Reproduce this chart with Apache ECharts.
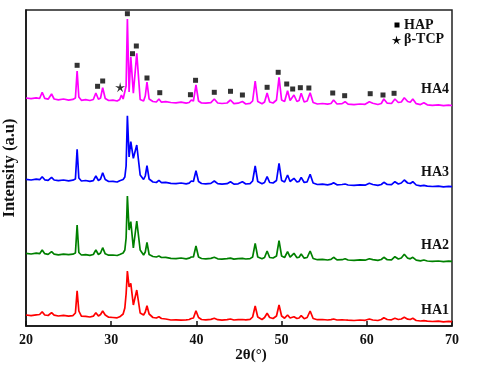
<!DOCTYPE html>
<html>
<head>
<meta charset="utf-8">
<script src="https://cdn.jsdelivr.net/npm/echarts@6/dist/echarts.min.js"></script>
<style>
  html, body { margin: 0; padding: 0; background: #fff; }
  #xrd { width: 480px; height: 372px; }
</style>
</head>
<body>
<div id="xrd"></div>
<script>
// 2θ positions shared by all four patterns
var twoTheta = [
  20.0, 20.6, 21.2, 21.6, 21.9, 22.2, 22.6, 23.0, 23.3, 23.8,
  24.4, 25.0, 25.5, 25.8, 26.0, 26.2, 26.5, 27.0, 27.5, 27.9,
  28.2, 28.5, 28.75, 29.0, 29.3, 29.7, 30.2, 30.7, 31.0, 31.2,
  31.4, 31.6, 31.75, 31.9, 32.1, 32.3, 32.6, 33.0, 33.4, 33.8,
  34.0, 34.2, 34.45, 34.9, 35.3, 35.6, 35.9, 36.4, 37.0, 37.6,
  38.2, 38.8, 39.15, 39.4, 39.65, 39.95, 40.25, 40.6, 41.1, 41.7,
  42.1, 42.5, 43.0, 43.6, 44.0, 44.4, 44.9, 45.4, 45.8, 46.3,
  46.6, 46.9, 47.2, 47.7, 48.0, 48.3, 48.6, 49.0, 49.4, 49.7,
  50.0, 50.35, 50.7, 51.0, 51.2, 51.45, 51.8, 52.05, 52.3, 52.65,
  53.0, 53.35, 53.7, 54.2, 54.8, 55.4, 55.8, 56.1, 56.5, 57.1,
  57.45, 57.8, 58.5, 59.2, 59.8, 60.3, 60.7, 61.3, 61.7, 62.0,
  62.4, 62.9, 63.3, 63.7, 64.05, 64.4, 64.8, 65.1, 65.4, 65.8,
  66.3, 66.7, 67.1, 67.7, 68.4, 69.0, 69.6, 70.0
];

// intensities (a.u., stacked with offsets as in the figure)
var ha4 = [
  228, 227.3, 228.2, 227.5, 233.7, 227.6, 226.8, 232, 227, 226.2,
  227, 225.8, 226.6, 228, 255, 229, 225.7, 226.4, 225.5, 226.5,
  233, 226.8, 228, 238.3, 227.5, 225.5, 225.8, 225, 226.5, 231,
  227, 229, 240, 307, 234, 269.3, 232.7, 272.7, 226.5, 225,
  230, 244, 227, 224.5, 224, 227, 223.8, 224.3, 223.5, 223.2,
  223.8, 222.9, 223.5, 226, 225, 241, 225, 223, 222.8, 223.3,
  227, 223, 222.5, 223, 226, 222.4, 222.8, 224.5, 222, 222.6,
  225, 245, 224.5, 222.3, 224, 233, 224, 223, 226, 248.7,
  226, 224.5, 235.3, 225.5, 225, 231, 224.5, 225.5, 232.7, 224,
  225, 233.3, 223.5, 222, 222.5, 221.8, 222.5, 226, 222, 222.4,
  224.3, 221.8, 221.3, 222, 221.7, 224.3, 222.8, 221.5, 222.5, 227,
  222.8, 222.5, 227, 223.5, 224, 228.3, 224.5, 223.8, 227, 222.3,
  221.4, 223.3, 221.2, 220.6, 221.1, 220.3, 220.8, 220.5
];
var ha3 = [
  146.7, 146, 146.8, 146.3, 149.3, 146.2, 145.6, 148.7, 146, 145.3,
  146, 145.2, 145.8, 147, 176.7, 148, 145, 145.5, 144.6, 145.4,
  150, 145.5, 147, 153.3, 146.5, 144.5, 144.6, 144, 145.2, 146.5,
  146.5, 149, 160, 210.3, 169, 184.3, 167.7, 181, 151, 146.5,
  150, 160.3, 147, 144, 143.5, 145.7, 143.4, 143.6, 142.7, 142.4,
  143, 142.2, 142.8, 145, 144.5, 155.3, 144.5, 142.5, 142.2, 142.6,
  145, 142.4, 141.8, 142.3, 144.3, 141.9, 142.2, 144.3, 142, 142.4,
  145, 160, 144.5, 142.2, 143.5, 149.3, 143.5, 143, 145.5, 162.7,
  145.5, 144, 151, 144.5, 144.3, 147.7, 144, 144.6, 148.7, 143.5,
  144.2, 151.7, 143, 141.5, 141.8, 141.2, 141.8, 143.3, 141.2, 141.5,
  142, 141, 140.6, 141.2, 140.8, 142.7, 141.5, 140.6, 141.5, 143.7,
  141.5, 141.3, 144.3, 142, 143, 146, 143, 142.5, 144.3, 141,
  140.2, 140.7, 139.9, 139.5, 139.9, 139.2, 139.6, 139.3
];
var ha2 = [
  72.7, 72, 72.8, 72.3, 76, 72.3, 71.6, 74.3, 71.8, 71.2,
  71.9, 71.3, 71.8, 73, 101, 73.5, 71, 71.4, 70.7, 71.5,
  76, 71.5, 73, 78.3, 72.2, 70.8, 71, 70.5, 71.5, 72.5,
  73, 76, 88, 130, 96, 104.3, 78, 105, 76, 71,
  74, 83.7, 71.5, 69.5, 69, 70, 68.5, 68.6, 67.7, 67.4,
  68, 67.2, 67.8, 69, 69, 80, 69, 67.5, 67.2, 67.6,
  68.7, 67.2, 66.9, 67.3, 67.9, 66.9, 67.3, 67.7, 67, 67.4,
  69, 82.7, 69, 67.2, 68.5, 75, 68.5, 68, 70, 85.3,
  70, 68.5, 74.3, 68.8, 68.5, 72.7, 68.2, 68.8, 72, 67.8,
  68.5, 75, 67.5, 66.3, 66.6, 66, 66.6, 68.7, 66.1, 66.3,
  67.3, 66, 65.6, 66.2, 65.8, 67.3, 66.4, 65.6, 66.5, 68.7,
  66.3, 66.1, 69.3, 67, 68, 71.7, 67.8, 67.2, 68.7, 65.8,
  65.2, 66, 65, 64.6, 65, 64.4, 64.8, 64.7
];
var ha1 = [
  11, 10.4, 11.2, 11.5, 14.3, 11, 10.5, 13.3, 10.8, 10,
  10.6, 9.8, 10.4, 13, 35.3, 15, 9.8, 9.6, 9, 9.8,
  13.3, 10, 11.5, 15, 11, 8.8, 8.5, 8.2, 9.2, 10.5,
  12, 18, 32, 55, 39, 42.7, 21, 36, 13, 11,
  14, 20.3, 12, 8.5, 8, 9.3, 7.5, 7, 6, 6.2,
  5.8, 6.2, 6.5, 7.5, 8, 15.3, 8.5, 6.5, 6.2, 6.6,
  7.7, 6.3, 5.9, 6.3, 7, 6, 6.4, 6.5, 6.2, 6.6,
  9, 20, 9, 6.5, 8.5, 12.7, 8.5, 7.5, 10, 21,
  10, 7.8, 11, 8, 8, 9.3, 7.5, 8, 10.3, 7.3,
  8.5, 15, 7.5, 6.3, 6.5, 6, 6.4, 7, 6, 6.2,
  6, 5.8, 5.5, 6, 5.7, 7, 6, 5.5, 6.5, 8.3,
  6.5, 6.2, 7.7, 6.5, 7, 8.7, 6.8, 6.5, 7.7, 5.5,
  5, 5.3, 4.8, 4.5, 4.8, 4.2, 4.6, 4.3
];

// phase markers above the HA4 pattern
var hapTheta = [26.0, 28.4, 29.0, 31.9, 32.5, 32.95, 34.2, 35.7, 39.3, 39.9,
  42.1, 44.0, 45.4, 48.3, 49.6, 50.6, 51.3, 52.2, 53.2, 56.0,
  57.4, 60.4, 61.9, 63.2];
var hapLevel = [260.7, 239.7, 245, 312.3, 272.3, 280, 248, 233.3, 231.3, 245.7,
  233.7, 234.7, 231, 238.7, 253.7, 242, 237, 238.3, 238, 233,
  230.3, 232.3, 231, 232.7];
var tcpTheta = [31.05];
var tcpLevel = [238.7];

var sampleNames = ['HA1', 'HA2', 'HA3', 'HA4'];
var sampleColors = ['#ff0000', '#008000', '#0000ff', '#ff00ff'];
var tickLabels = ['20', '30', '40', '50', '60', '70'];

var serif = '"Liberation Serif", "Times New Roman", serif';

function pairs(xs, ys) {
  return xs.map(function (x, i) { return [x, ys[i]]; });
}

// five-point star, used for the β-TCP mark
function starPoints(cx, cy, ro, ri) {
  var pts = [];
  for (var k = 0; k < 10; k++) {
    var r = k % 2 === 0 ? ro : ri;
    var a = Math.PI / 5 * k - Math.PI / 2;
    pts.push([cx + r * Math.cos(a), cy + r * Math.sin(a)]);
  }
  return pts;
}
var starSymbol = 'path://M' + starPoints(0, 0, 10, 3.2).map(function (p) {
  return p[0].toFixed(2) + ',' + p[1].toFixed(2);
}).join('L') + 'Z';

var chartDom = document.getElementById('xrd');
var myChart = echarts.init(chartDom);
var option;

var patterns = [ha1, ha2, ha3, ha4];
var lineSeries = patterns.map(function (ys, i) {
  return {
    name: sampleNames[i],
    type: 'line',
    data: pairs(twoTheta, ys),
    showSymbol: false,
    symbol: 'none',
    smooth: false,
    lineStyle: { color: sampleColors[i], width: 1.7 },
    z: 2
  };
});

var labelY = [310, 245, 172, 89];

option = {
  animation: false,
  grid: {
    left: 26,
    right: 28,
    top: 10,
    bottom: 46,
    containLabel: false,
    outerBoundsMode: 'none',
    show: true,
    borderColor: '#222',
    borderWidth: 1.5,
    backgroundColor: 'rgba(0,0,0,0)'
  },
  xAxis: {
    type: 'value',
    min: 20,
    max: 70,
    interval: 10,
    axisLine: { lineStyle: { color: '#111', width: 1.5 } },
    axisTick: { inside: true, length: 5, lineStyle: { color: '#111', width: 1.5 } },
    axisLabel: {
      color: '#111',
      fontFamily: serif,
      fontWeight: 'bold',
      fontSize: 14,
      margin: 7,
      formatter: function (v) { return tickLabels[Math.round((v - 20) / 10)]; }
    },
    splitLine: { show: false }
  },
  yAxis: {
    type: 'value',
    min: 0,
    max: 316,
    axisLine: { show: true, lineStyle: { color: '#111', width: 1.5 } },
    axisTick: { show: false },
    axisLabel: { show: false },
    splitLine: { show: false },
    name: 'Intensity (a.u)',
    nameLocation: 'middle',
    nameGap: 8,
    nameTextStyle: {
      color: '#111',
      fontFamily: serif,
      fontWeight: 'bold',
      fontSize: 16.5
    }
  },
  series: lineSeries.concat([
    {
      name: 'HAP',
      type: 'scatter',
      data: pairs(hapTheta, hapLevel),
      symbol: 'rect',
      symbolSize: 5,
      itemStyle: { color: '#000' },
      z: 3
    },
    {
      name: 'β-TCP',
      type: 'scatter',
      data: pairs(tcpTheta, tcpLevel),
      symbol: starSymbol,
      symbolSize: 10,
      itemStyle: { color: '#000' },
      z: 3
    }
  ]),
  graphic: [
    { type: 'rect', shape: { x: 394.5, y: 22.5, width: 5, height: 5 }, style: { fill: '#000' } },
    {
      type: 'text', x: 404, y: 25,
      style: { text: 'HAP', fill: '#111', font: 'bold 14px ' + serif, verticalAlign: 'middle' }
    },
    { type: 'polygon', shape: { points: starPoints(396.5, 40.5, 5, 1.6) }, style: { fill: '#000' } },
    {
      type: 'text', x: 404, y: 39,
      style: { text: 'β-TCP', fill: '#111', font: 'bold 14px ' + serif, verticalAlign: 'middle' }
    },
    {
      type: 'text', x: 251, y: 355,
      style: { text: '2θ(°)', fill: '#111', font: 'bold 15px ' + serif, align: 'center', verticalAlign: 'middle' }
    }
  ].concat(sampleNames.map(function (n, i) {
    return {
      type: 'text', x: 449, y: labelY[i],
      style: { text: n, fill: '#111', font: 'bold 14px ' + serif, align: 'right', verticalAlign: 'middle' }
    };
  }))
};

option && myChart.setOption(option);
</script>
</body>
</html>
